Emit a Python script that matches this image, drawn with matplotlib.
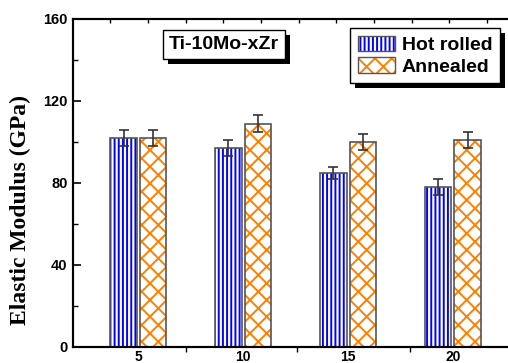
import matplotlib
matplotlib.use("Agg")
import matplotlib.pyplot as plt
import matplotlib.patheffects as pe
from matplotlib.patches import Patch
from matplotlib.legend_handler import HandlerTuple
import numpy as np

zr = [5, 10, 15, 20]
hot_rolled = [102, 97, 85, 78]
hot_rolled_err = [4, 4, 3, 4]
annealed = [102, 109, 100, 101]
annealed_err = [4, 4, 4, 4]
series_names = ["Hot rolled", "Annealed"]
title_text = "Ti-10Mo-xZr"
ylabel = "Elastic Modulus (GPa)"

plt.rcParams['hatch.linewidth'] = 1.4
sans = ['Liberation Sans', 'DejaVu Sans']
serif = ['Liberation Serif', 'DejaVu Serif']

fig = plt.figure(figsize=(5.08, 3.63), dpi=100)
ax = fig.add_axes([0.1437, 0.0441, 0.88, 0.9036])

x = np.array(zr, dtype=float)
w = 1.27
off = 0.705
blue = '#0000ff'
orange = '#ff8000'
edge = '#555555'

ax.bar(x - off, hot_rolled, w, color='white', edgecolor=blue, hatch='||||', linewidth=0, zorder=2)
ax.bar(x - off, hot_rolled, w, fill=False, edgecolor=edge, linewidth=1.2, zorder=3)
ax.bar(x + off, annealed, w, color='white', edgecolor=orange, hatch='xx', linewidth=0, zorder=2)
ax.bar(x + off, annealed, w, fill=False, edgecolor=edge, linewidth=1.2, zorder=3)
ax.errorbar(x - off, hot_rolled, yerr=hot_rolled_err, fmt='none', ecolor='#333333',
            elinewidth=1.2, capsize=3.5, capthick=1.2, zorder=4)
ax.errorbar(x + off, annealed, yerr=annealed_err, fmt='none', ecolor='#333333',
            elinewidth=1.2, capsize=3.5, capthick=1.2, zorder=4)

ax.set_xlim(1.886, 23.2)
ax.set_ylim(0, 160)
ax.set_yticks([0, 40, 80, 120, 160])
ax.set_yticks([20, 60, 100, 140], minor=True)
ax.set_xticks(zr)
ax.set_xticklabels([str(v) for v in zr])
ax.set_xticks([7.25, 12.57, 17.94, 23.0], minor=True)

for lab in ax.get_yticklabels():
    lab.set_fontfamily(sans)
    lab.set_fontweight('bold')
    lab.set_fontsize(10.5)
for lab in ax.get_xticklabels():
    lab.set_fontfamily(sans)
    lab.set_fontweight('bold')
    lab.set_fontsize(10)

ax.tick_params(axis='y', which='major', direction='in', length=6, width=1.2, pad=4)
ax.tick_params(axis='y', which='minor', direction='in', length=3.5, width=1.0)
ax.tick_params(axis='x', which='major', length=0, pad=2)
ax.tick_params(axis='x', which='minor', direction='out', length=3.5, width=1.0)

# top minor ticks
axt = ax.twiny()
axt.set_xlim(ax.get_xlim())
axt.set_xticks(np.arange(3.66, 23.2, 1.797))
axt.set_xticklabels([])
axt.tick_params(axis='x', direction='in', length=3, width=1.0)

for a in (ax, axt):
    for s in a.spines.values():
        s.set_linewidth(1.5)
        s.set_color('black')
    a.spines['right'].set_visible(False)

ax.set_ylabel(ylabel, fontfamily=serif, fontweight='bold', fontsize=17)
ax.yaxis.set_label_coords(-0.094, 0.418)

t = ax.text(6.45, 147.6, title_text, fontfamily=sans, fontweight='bold', fontsize=14,
            ha='left', va='center', zorder=6,
            bbox=dict(boxstyle='square,pad=0.3', facecolor='white', edgecolor='black', linewidth=1))
t.get_bbox_patch().set_path_effects([pe.withSimplePatchShadow(offset=(3.5, -3.5), shadow_rgbFace='black', alpha=1.0)])

h1 = (Patch(facecolor='white', edgecolor=blue, hatch='||||', linewidth=0),
      Patch(facecolor='none', edgecolor=edge, linewidth=1.0))
h2 = (Patch(facecolor='white', edgecolor=orange, hatch='xx', linewidth=0),
      Patch(facecolor='none', edgecolor=edge, linewidth=1.0))
leg = ax.legend([h1, h2], series_names, handler_map={tuple: HandlerTuple(ndivide=1, pad=0)},
                loc='upper left', bbox_to_anchor=(0.62, 0.973), frameon=True, fancybox=False,
                framealpha=1.0,
                prop=dict(family=sans, weight='bold', size=14), handlelength=1.9, handleheight=0.85,
                handletextpad=0.35, labelspacing=0.15, borderpad=0.4, borderaxespad=0)
leg.get_frame().set_edgecolor('black')
leg.get_frame().set_facecolor('white')
leg.get_frame().set_linewidth(1.0)
leg.get_frame().set_path_effects([pe.withSimplePatchShadow(offset=(3.5, -3.5), shadow_rgbFace='black', alpha=1.0)])
leg.set_zorder(7)

fig.savefig('out.png', dpi=100)
